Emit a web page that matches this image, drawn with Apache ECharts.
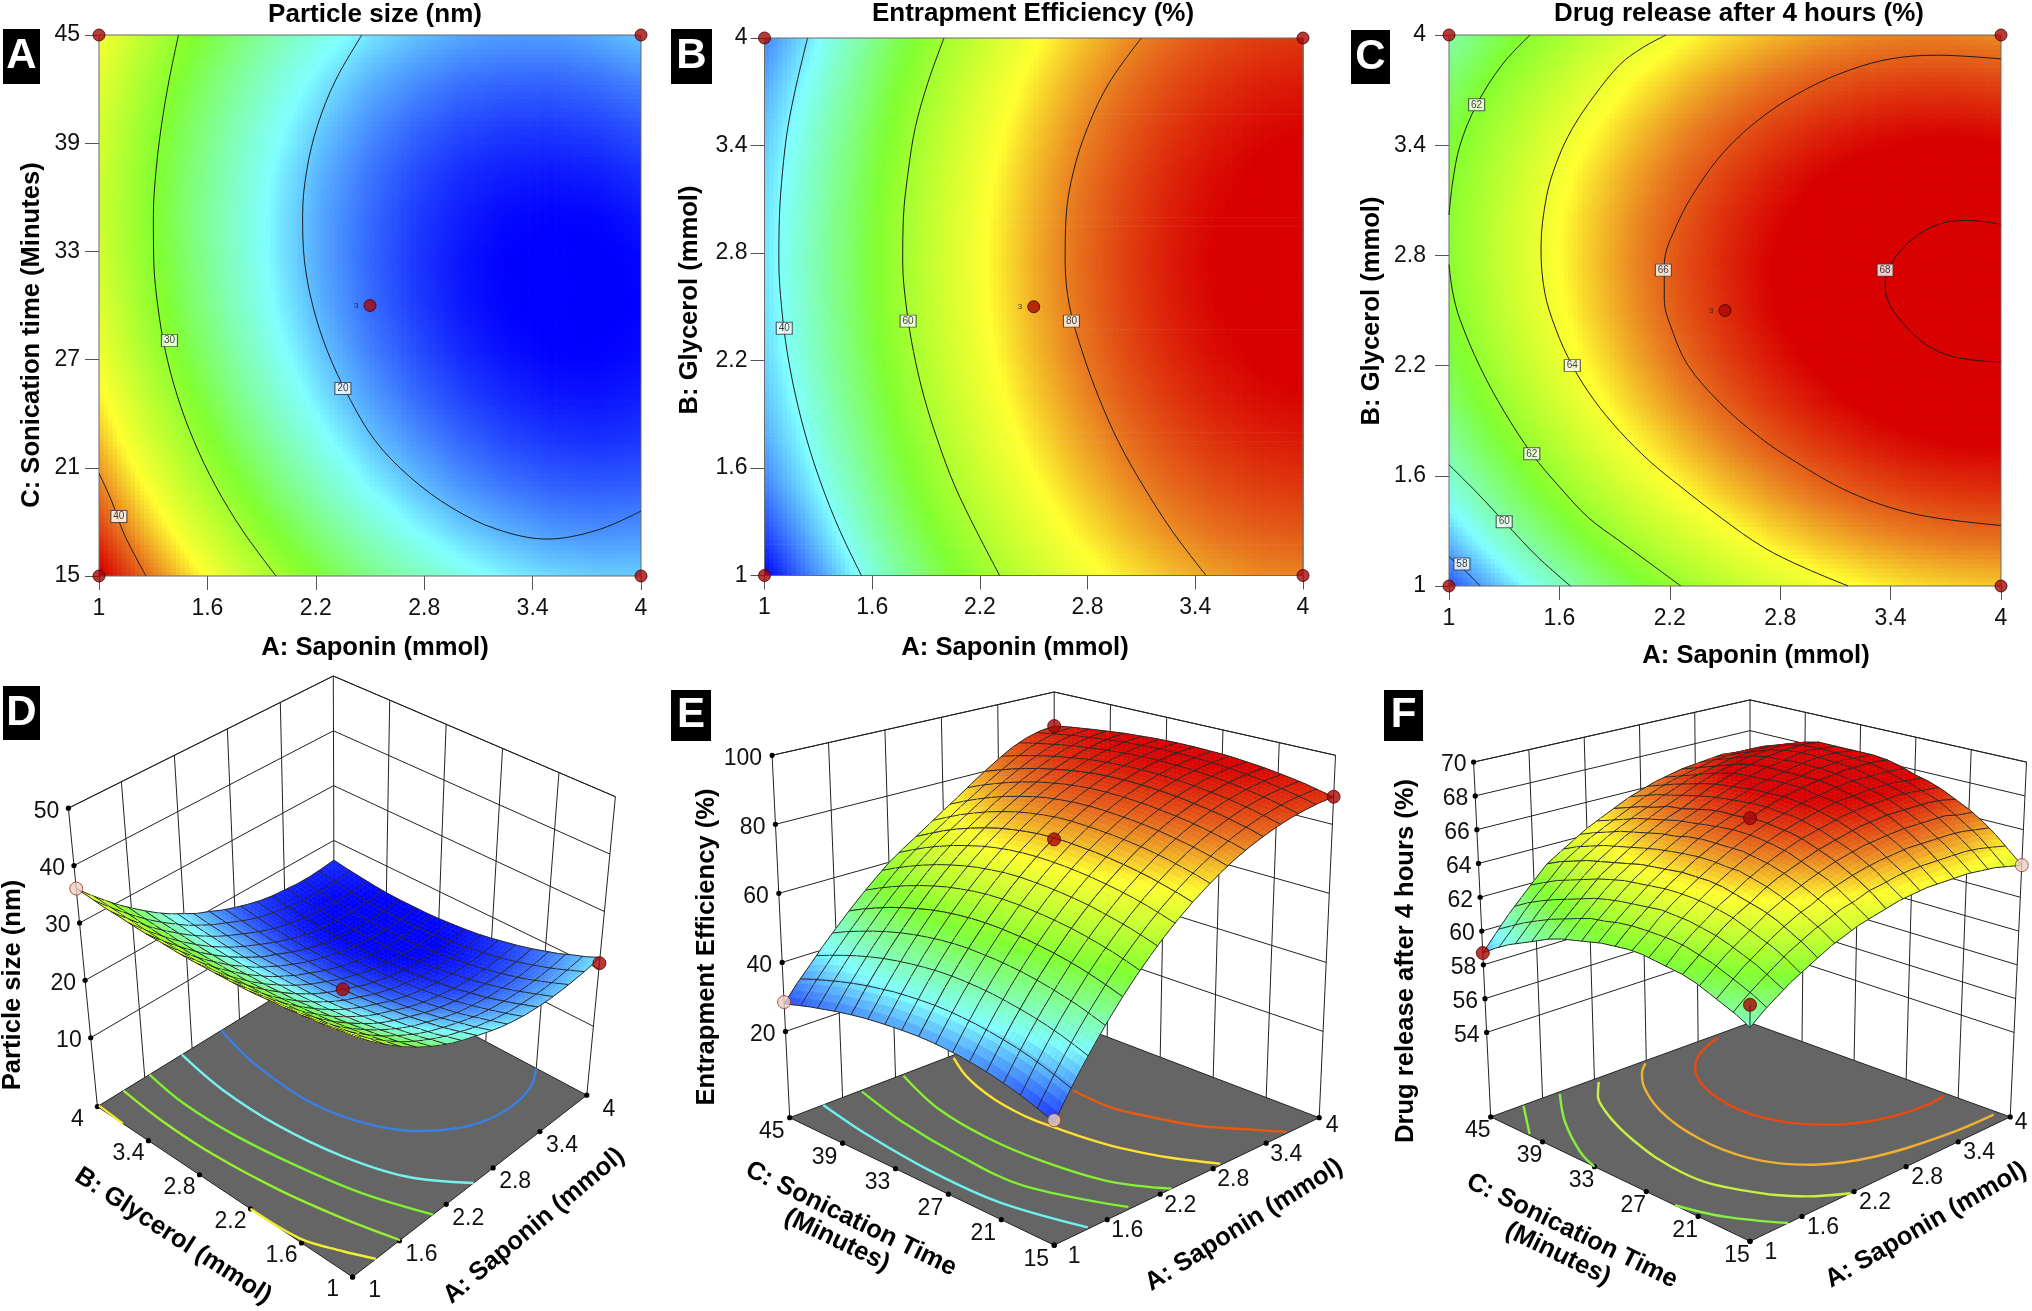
<!DOCTYPE html>
<html><head><meta charset="utf-8">
<script src="https://cdn.jsdelivr.net/npm/echarts@6/dist/echarts.min.js"></script>
<style>html,body{margin:0;padding:0;background:#fff}#c{width:2032px;height:1311px}</style></head>
<body><div id="c"></div>
<script>
// ---------- tick labels ----------
const saponinTicks=[1,1.6,2.2,2.8,3.4,4];
const glycerolTicks=[1,1.6,2.2,2.8,3.4,4];
const sonicationTicks=[15,21,27,33,39,45];
const sizeTicks=[10,20,30,40,50];
const entrapTicks=[20,40,60,80,100];
const releaseTicks=[54,56,58,60,62,64,66,68,70];
// ---------- read grids for the flat maps (13 x 13) ----------
const saponin13=[1,1.25,1.5,1.75,2,2.25,2.5,2.75,3,3.25,3.5,3.75,4];
const glycerol13=[1,1.25,1.5,1.75,2,2.25,2.5,2.75,3,3.25,3.5,3.75,4];
const sonication13=[15,17.5,20,22.5,25,27.5,30,32.5,35,37.5,40,42.5,45];
const mapSize=[
[46.5,42.1,38.2,34.6,31.4,28.6,26.2,24.3,22.7,21.5,20.7,20.3,20.3],
[43.7,39.4,35.5,32,28.8,26.1,23.8,21.9,20.4,19.3,18.5,18.2,18.3],
[41.2,37,33.1,29.7,26.6,24,21.7,19.9,18.4,17.4,16.7,16.5,16.6],
[39.1,34.9,31.2,27.8,24.8,22.2,20,18.3,16.9,15.9,15.3,15.1,15.3],
[37.4,33.3,29.6,26.2,23.3,20.8,18.7,17,15.7,14.8,14.2,14.1,14.4],
[36,31.9,28.3,25.1,22.2,19.8,17.7,16.1,14.8,14,13.5,13.5,13.8],
[35,31,27.4,24.2,21.5,19.1,17.1,15.5,14.3,13.6,13.2,13.2,13.6],
[34.3,30.4,26.9,23.8,21.1,18.8,16.9,15.3,14.2,13.5,13.2,13.3,13.7],
[34,30.2,26.7,23.7,21.1,18.8,17,15.5,14.5,13.8,13.6,13.7,14.2],
[34.1,30.3,26.9,24,21.4,19.2,17.4,16,15,14.5,14.3,14.5,15.1],
[34.5,30.8,27.5,24.6,22.1,20,18.2,16.9,16,15.5,15.4,15.7,16.3],
[35.3,31.7,28.4,25.6,23.1,21.1,19.4,18.2,17.3,16.9,16.8,17.2,17.9],
[36.4,32.9,29.7,26.9,24.5,22.6,21,19.8,19,18.6,18.6,19.1,19.9]];
const mapEntrap=[
[22,30.9,39.2,46.7,53.5,59.5,64.8,69.3,73,76,78.2,79.7,80.3],
[27,34.8,42.6,50.1,56.9,62.9,68.2,72.7,76.4,79.4,81.6,83.1,83.7],
[31,38.1,45.4,52.9,59.7,65.7,71,75.5,79.2,82.2,84.4,85.9,86.5],
[33.8,40.4,47.7,55.2,62,68,73.3,77.8,81.5,84.5,86.7,88.2,88.8],
[35.6,42.2,49.5,57,63.8,69.8,75.1,79.6,83.3,86.3,88.5,90,90.6],
[36.9,43.5,50.8,58.3,65.1,71.1,76.4,80.9,84.6,87.6,89.8,91.3,91.9],
[37.6,44.2,51.5,59,65.8,71.8,77.1,81.6,85.3,88.3,90.5,92,92.6],
[37.9,44.5,51.8,59.3,66.1,72.1,77.4,81.9,85.6,88.6,90.8,92.3,92.9],
[37.6,44.2,51.5,59,65.8,71.8,77.1,81.6,85.3,88.3,90.5,92,92.6],
[36.9,43.5,50.8,58.3,65.1,71.1,76.4,80.9,84.6,87.6,89.8,91.3,91.9],
[35.6,42.2,49.5,57,63.8,69.8,75.1,79.6,83.3,86.3,88.5,90,90.6],
[33.8,40.4,47.7,55.2,62,68,73.3,77.8,81.5,84.5,86.7,88.2,88.8],
[31.5,38.1,45.4,52.9,59.7,65.7,71,75.5,79.2,82.2,84.4,85.9,86.5]];
const mapRelease=[
[57.49,58.63,59.68,60.64,61.5,62.25,62.92,63.49,63.97,64.34,64.62,64.8,64.89],
[58.62,59.75,60.78,61.73,62.57,63.31,63.96,64.52,64.98,65.34,65.6,65.77,65.84],
[59.59,60.7,61.72,62.65,63.48,64.2,64.84,65.38,65.82,66.17,66.42,66.57,66.63],
[60.39,61.49,62.49,63.41,64.22,64.93,65.55,66.08,66.51,66.84,67.08,67.21,67.25],
[61.04,62.12,63.11,64.01,64.81,65.5,66.1,66.62,67.03,67.35,67.57,67.69,67.71],
[61.52,62.58,63.56,64.44,65.23,65.91,66.5,66.99,67.39,67.7,67.9,68,68.01],
[61.84,62.89,63.85,64.72,65.48,66.15,66.72,67.21,67.59,67.88,68.07,68.15,68.15],
[61.99,63.03,63.97,64.83,65.58,66.23,66.79,67.26,67.62,67.9,68.07,68.14,68.13],
[61.99,63.01,63.94,64.78,65.51,66.15,66.69,67.14,67.5,67.76,67.91,67.97,67.94],
[61.82,62.82,63.74,64.56,65.28,65.9,66.43,66.87,67.21,67.45,67.6,67.64,67.59],
[61.49,62.48,63.38,64.18,64.89,65.5,66.01,66.43,66.75,66.98,67.11,67.14,67.07],
[60.99,61.97,62.85,63.64,64.34,64.93,65.43,65.83,66.14,66.35,66.47,66.48,66.4],
[60.34,61.3,62.17,62.94,63.62,64.2,64.68,65.07,65.36,65.56,65.66,65.65,65.56]];
// ---------- contours of the flat maps, [x, y] pairs ----------
const contA40=[[1,20.7],[1.07,19.15],[1.14,17.3],[1.26,15]];
const contA30=[[1.44,45],[1.388,42.5],[1.346,40],[1.316,37.5],[1.301,35],[1.303,32.5],[1.325,30],[1.367,27.5],[1.433,25],[1.525,22.5],[1.645,20],[1.796,17.5],[1.98,15]];
const contA20=[[2.455,45],[2.31,42.5],[2.21,40],[2.15,37.5],[2.127,35],[2.137,32.5],[2.183,30],[2.263,27.5],[2.379,25],[2.529,22.5],[2.72,20.5],[2.95,18.8],[3.2,17.6],[3.48,17.05],[3.76,17.55],[4,18.6]];
const contB40=[[1.24,4],[1.18,3.75],[1.13,3.5],[1.1,3.25],[1.083,3],[1.08,2.75],[1.095,2.5],[1.126,2.25],[1.174,2],[1.238,1.75],[1.32,1.5],[1.42,1.25],[1.54,1]];
const contB60=[[2,4],[1.91,3.75],[1.84,3.5],[1.8,3.25],[1.774,3],[1.77,2.75],[1.79,2.5],[1.83,2.25],[1.888,2],[1.966,1.75],[2.06,1.5],[2.18,1.25],[2.31,1]];
const contB80=[[3.1,4],[2.92,3.75],[2.8,3.5],[2.72,3.25],[2.68,3],[2.675,2.75],[2.7,2.5],[2.77,2.25],[2.86,2],[2.97,1.75],[3.11,1.5],[3.27,1.25],[3.46,1]];
const contC58=[[1,1.16],[1.09,1.08],[1.17,1]];
const contC60=[[1,1.66],[1.15,1.51],[1.3,1.35],[1.48,1.16],[1.66,1]];
const contC62a=[[1.44,4],[1.29,3.84],[1.15,3.62],[1.06,3.4],[1.02,3.2],[1,3.02]];
const contC62b=[[1,2.75],[1.02,2.6],[1.06,2.45],[1.17,2.19],[1.3,1.95],[1.45,1.72],[1.6,1.54],[1.76,1.37],[1.92,1.25],[2.07,1.14],[2.26,1]];
const contC64=[[2.18,4],[2.05,3.93],[1.93,3.84],[1.79,3.67],[1.67,3.49],[1.59,3.32],[1.53,3.12],[1.5,2.84],[1.52,2.6],[1.58,2.4],[1.67,2.2],[1.79,2.01],[1.93,1.84],[2.09,1.68],[2.26,1.54],[2.48,1.37],[2.71,1.21],[2.93,1.1],[3.17,1]];
const contC66=[[4,3.87],[3.65,3.89],[3.4,3.87],[3.18,3.81],[2.95,3.71],[2.71,3.56],[2.5,3.37],[2.35,3.17],[2.24,2.97],[2.17,2.75],[2.17,2.56],[2.21,2.4],[2.3,2.2],[2.47,2],[2.65,1.84],[2.83,1.71],[3.18,1.51],[3.54,1.39],[4,1.33]];
const contC68=[[4,2.97],[3.82,2.99],[3.66,2.97],[3.52,2.89],[3.42,2.78],[3.37,2.65],[3.39,2.54],[3.46,2.44],[3.57,2.33],[3.7,2.26],[3.85,2.23],[4,2.22]];
const labelsA=[[1.11,18.3,'40'],[1.39,28.05,'30'],[2.35,25.4,'20']];
const labelsB=[[1.11,2.38,'40'],[1.8,2.42,'60'],[2.71,2.42,'80']];
const labelsC=[[1.15,3.62,'62'],[2.165,2.72,'66'],[3.37,2.72,'68'],[1.67,2.2,'64'],[1.45,1.72,'62'],[1.3,1.35,'60'],[1.07,1.12,'58']];
const cornersA=[[1,15],[4,15],[1,45],[4,45]], centreA=[[2.5,30]];
const cornersB=[[1,1],[4,1],[1,4],[4,4]], centreB=[[2.5,2.5]];
// ---------- read surfaces (21 x 21) ----------
const saponin21=[1,1.15,1.3,1.45,1.6,1.75,1.9,2.05,2.2,2.35,2.5,2.65,2.8,2.95,3.1,3.25,3.4,3.55,3.7,3.85,4];
const surfSize=[
[38,35.9,34,32.2,30.5,29,27.6,26.4,25.3,24.4,23.6,22.8,22.1,21.6,21.2,21,20.9,21,21.2,21.5,22],
[37.6,35.4,33.5,31.7,30,28.4,27,25.8,24.7,23.7,22.9,22,21.4,20.8,20.4,20.2,20.1,20.1,20.3,20.6,21],
[37.1,35,33,31.2,29.5,27.9,26.5,25.2,24,23,22.2,21.4,20.7,20.1,19.7,19.4,19.3,19.3,19.4,19.7,20.2],
[36.8,34.6,32.6,30.7,29,27.4,26,24.7,23.5,22.5,21.6,20.8,20,19.4,19,18.7,18.5,18.5,18.6,18.9,19.3],
[36.4,34.3,32.2,30.3,28.6,27,25.5,24.2,23,21.9,21.1,20.2,19.4,18.8,18.4,18,17.9,17.8,17.9,18.2,18.6],
[36.1,33.9,31.9,30,28.2,26.6,25.1,23.7,22.5,21.5,20.6,19.7,18.9,18.3,17.8,17.5,17.3,17.2,17.3,17.5,17.9],
[35.9,33.6,31.6,29.6,27.9,26.2,24.7,23.4,22.1,21.1,20.2,19.2,18.4,17.8,17.3,16.9,16.7,16.7,16.7,16.9,17.3],
[35.6,33.4,31.3,29.4,27.6,25.9,24.4,23,21.8,20.7,19.8,18.8,18,17.4,16.9,16.5,16.3,16.2,16.2,16.4,16.8],
[35.4,33.2,31.1,29.1,27.3,25.7,24.1,22.7,21.5,20.4,19.5,18.5,17.7,17,16.5,16.1,15.9,15.8,15.8,16,16.3],
[35.3,33,30.9,28.9,27.1,25.4,23.9,22.5,21.2,20.1,19.2,18.2,17.4,16.7,16.2,15.8,15.5,15.4,15.4,15.6,15.9],
[35.2,32.9,30.8,28.8,27,25.3,23.7,22.3,21,19.9,19,18,17.1,16.5,15.9,15.5,15.2,15.1,15.1,15.3,15.6],
[35.1,32.8,30.6,28.7,26.8,25.1,23.6,22.2,20.9,19.8,18.8,17.8,17,16.3,15.7,15.3,15,14.9,14.9,15.1,15.4],
[35,32.8,30.6,28.6,26.8,25.1,23.5,22,20.8,19.6,18.7,17.7,16.8,16.1,15.6,15.1,14.9,14.7,14.7,14.9,15.2],
[35,32.7,30.6,28.6,26.8,25,23.5,22,20.8,19.6,18.6,17.6,16.8,16.1,15.5,15.1,14.8,14.7,14.7,14.8,15.1],
[35.1,32.8,30.6,28.6,26.8,25,23.5,22,20.8,19.6,18.6,17.6,16.8,16.1,15.5,15.1,14.8,14.6,14.6,14.8,15.1],
[35.1,32.8,30.7,28.7,26.8,25.1,23.5,22.1,20.8,19.6,18.7,17.7,16.8,16.1,15.5,15.1,14.8,14.7,14.7,14.8,15.1],
[35.2,32.9,30.8,28.8,26.9,25.2,23.6,22.2,20.9,19.8,18.8,17.8,16.9,16.2,15.6,15.2,14.9,14.8,14.8,14.9,15.2],
[35.4,33.1,31,28.9,27.1,25.4,23.8,22.4,21.1,20,19,18,17.1,16.4,15.8,15.4,15.1,15,15,15.1,15.4],
[35.5,33.3,31.1,29.1,27.3,25.6,24,22.6,21.3,20.2,19.2,18.2,17.3,16.6,16.1,15.6,15.4,15.2,15.2,15.4,15.7],
[35.8,33.5,31.4,29.4,27.5,25.8,24.3,22.8,21.6,20.4,19.5,18.5,17.6,16.9,16.4,15.9,15.6,15.5,15.5,15.7,16],
[36,33.7,31.6,29.6,27.8,26.1,24.5,23.1,21.9,20.7,19.8,18.8,18,17.3,16.7,16.3,16.1,15.9,15.9,16.1,16.4]];
const surfEntrap=[
[26.4,32.1,37.5,42.6,47.5,52.1,56.4,60.4,64.2,67.7,70.9,73.8,76.5,78.9,81,82.8,84.4,85.7,86.7,87.5,87.9],
[27.9,33.5,38.9,44,48.8,53.4,57.7,61.7,65.4,68.9,72.1,75,77.6,80,82.1,83.9,85.4,86.7,87.7,88.4,88.8],
[29.2,34.8,40.2,45.3,50.1,54.6,58.9,62.8,66.6,70,73.1,76,78.6,81,83,84.8,86.4,87.6,88.6,89.2,89.7],
[30.4,36,41.3,46.4,51.1,55.7,59.9,63.8,67.5,71,74.1,77,79.5,81.9,83.9,85.7,87.2,88.4,89.3,90,90.4],
[31.4,37,42.3,47.3,52.1,56.6,60.8,64.7,68.4,71.8,74.9,77.8,80.3,82.6,84.7,86.4,87.9,89.1,90,90.7,91],
[32.3,37.8,43.1,48.1,52.9,57.4,61.6,65.5,69.2,72.5,75.6,78.5,81,83.3,85.3,87,88.5,89.7,90.6,91.2,91.6],
[33,38.5,43.8,48.8,53.6,58,62.2,66.1,69.8,73.1,76.2,79,81.6,83.8,85.8,87.6,89,90.2,91.1,91.7,92],
[33.6,39.1,44.4,49.4,54.1,58.6,62.7,66.6,70.3,73.6,76.7,79.5,82,84.3,86.3,88,89.4,90.6,91.4,92.1,92.4],
[34,39.5,44.8,49.8,54.5,58.9,63.1,67,70.6,74,77,79.8,82.3,84.6,86.6,88.3,89.7,90.9,91.7,92.3,92.7],
[34.3,39.8,45.1,50,54.7,59.2,63.4,67.2,70.9,74.2,77.3,80,82.6,84.8,86.8,88.5,89.9,91,91.9,92.5,92.8],
[34.4,39.9,45.2,50.2,54.9,59.3,63.5,67.4,71,74.3,77.4,80.2,82.7,84.9,86.9,88.6,90,91.2,92,92.6,92.9],
[34.3,39.8,45.1,50.1,54.8,59.2,63.4,67.3,70.9,74.2,77.3,80.1,82.6,84.8,86.8,88.5,89.9,91.1,92,92.6,92.9],
[34.1,39.6,44.8,49.8,54.5,58.9,63.1,66.9,70.5,73.9,76.9,79.7,82.2,84.5,86.5,88.3,89.7,90.9,91.8,92.5,92.8],
[33.8,39.3,44.4,49.3,54,58.4,62.5,66.4,70,73.3,76.3,79.1,81.7,84,86,87.8,89.4,90.6,91.6,92.3,92.6],
[33.4,38.7,43.8,48.7,53.3,57.7,61.8,65.6,69.2,72.5,75.5,78.3,80.9,83.2,85.3,87.2,88.9,90.2,91.3,92,92.3],
[32.8,38.1,43.1,47.9,52.4,56.7,60.8,64.6,68.2,71.4,74.4,77.2,79.8,82.2,84.5,86.4,88.2,89.7,90.8,91.6,92],
[32.1,37.3,42.1,46.9,51.3,55.6,59.6,63.4,67,70.2,73.1,75.9,78.6,81,83.4,85.5,87.4,89.1,90.3,91.1,91.5],
[31.2,36.3,41,45.7,50,54.3,58.2,62,65.5,68.7,71.6,74.3,77.1,79.6,82.1,84.4,86.5,88.3,89.7,90.6,91],
[30.3,35.2,39.7,44.3,48.5,52.7,56.6,60.3,63.9,67,69.8,72.6,75.3,78,80.6,83.1,85.4,87.4,89,90,90.4],
[29.2,34,38.3,42.7,46.9,51,54.8,58.5,62,65,67.7,70.5,73.4,76.1,79,81.6,84.2,86.5,88.2,89.3,89.8],
[28,32.6,36.7,41,45,49,52.8,56.4,59.9,62.8,65.5,68.3,71.2,74,77.1,80,82.8,85.4,87.3,88.5,89]];
const surfRelease=[
[60.3,60.9,61.4,61.9,62.3,62.7,63.1,63.4,63.7,63.9,64.1,64.3,64.4,64.5,64.5,64.5,64.5,64.4,64.3,64.1,63.9],
[60.7,61.3,61.8,62.3,62.8,63.2,63.6,63.9,64.2,64.4,64.7,64.8,65,65.1,65.1,65.1,65.1,65.1,65,64.8,64.6],
[61,61.6,62.2,62.7,63.2,63.6,64,64.3,64.7,64.9,65.2,65.4,65.5,65.6,65.7,65.7,65.7,65.7,65.6,65.5,65.3],
[61.3,61.9,62.5,63,63.5,64,64.4,64.7,65.1,65.4,65.6,65.8,66,66.1,66.2,66.2,66.2,66.2,66.2,66,65.9],
[61.6,62.2,62.8,63.3,63.8,64.3,64.7,65.1,65.4,65.7,66,66.2,66.4,66.5,66.6,66.7,66.7,66.7,66.7,66.5,66.4],
[61.8,62.4,63,63.6,64.1,64.5,65,65.4,65.7,66,66.3,66.5,66.7,66.9,67,67.1,67.1,67.1,67.1,67,66.8],
[61.9,62.6,63.2,63.7,64.3,64.7,65.2,65.6,66,66.3,66.6,66.8,67,67.2,67.3,67.4,67.4,67.5,67.4,67.3,67.2],
[62,62.7,63.3,63.9,64.4,64.9,65.4,65.8,66.1,66.5,66.8,67,67.2,67.4,67.6,67.6,67.7,67.7,67.7,67.6,67.5],
[62.1,62.7,63.4,63.9,64.5,65,65.4,65.9,66.3,66.6,66.9,67.2,67.4,67.6,67.7,67.8,67.9,67.9,67.9,67.8,67.7],
[62.1,62.7,63.4,64,64.5,65,65.5,65.9,66.3,66.7,67,67.2,67.5,67.7,67.8,68,68.1,68.1,68.1,68.1,68],
[62,62.7,63.3,63.9,64.5,65,65.5,65.9,66.3,66.7,67,67.3,67.6,67.8,68,68.1,68.2,68.3,68.3,68.3,68.2],
[61.9,62.6,63.2,63.8,64.4,64.9,65.4,65.9,66.3,66.6,66.9,67.3,67.5,67.8,68,68.1,68.3,68.3,68.4,68.3,68.3],
[61.7,62.4,63.1,63.7,64.3,64.8,65.3,65.8,66.2,66.5,66.9,67.2,67.5,67.8,68,68.1,68.3,68.4,68.4,68.4,68.3],
[61.5,62.3,62.9,63.6,64.2,64.7,65.2,65.6,66,66.4,66.8,67.1,67.4,67.7,67.9,68.1,68.3,68.4,68.5,68.4,68.3],
[61.3,62,62.7,63.4,64,64.5,65,65.5,65.9,66.3,66.6,67,67.3,67.6,67.9,68.1,68.2,68.4,68.5,68.4,68.3],
[61,61.7,62.4,63.1,63.8,64.3,64.8,65.3,65.7,66.1,66.4,66.8,67.2,67.5,67.8,68,68.2,68.3,68.4,68.4,68.3],
[60.6,61.4,62.1,62.8,63.5,64.1,64.6,65.1,65.5,65.9,66.3,66.6,67,67.3,67.6,67.8,68,68.1,68.2,68.2,68.1],
[60.2,61,61.8,62.5,63.2,63.9,64.4,64.9,65.3,65.7,66,66.4,66.7,67.1,67.3,67.5,67.7,67.8,67.9,67.9,67.8],
[59.8,60.6,61.4,62.2,62.9,63.6,64.1,64.6,65,65.4,65.8,66.2,66.5,66.8,67,67.2,67.4,67.5,67.6,67.5,67.5],
[59.3,60.1,61,61.8,62.5,63.3,63.8,64.3,64.7,65.1,65.5,65.9,66.2,66.5,66.7,66.9,67.1,67.2,67.2,67.2,67.2],
[58.7,59.6,60.5,61.3,62.1,62.9,63.4,63.9,64.4,64.8,65.2,65.6,65.9,66.2,66.4,66.6,66.7,66.8,66.9,66.8,66.8]];
// ---------- floor contours of the surfaces: [saponin, other factor] ----------
const floorD=[
[[2.57,4],[2.436,3.51],[2.38,2.9],[2.418,2.52],[2.53,2.16],[2.71,1.85],[2.94,1.62],[3.21,1.47],[3.5,1.42],[3.79,1.47],[4,1.6]],
[[2.07,4],[1.97,3.42],[1.96,2.76],[2.05,2.09],[2.23,1.5],[2.55,1]],
[[1.66,4],[1.59,3.53],[1.6,2.93],[1.69,2.26],[1.82,1.63],[2.03,1]],
[[1.33,4],[1.28,3.49],[1.28,2.89],[1.35,2.2],[1.47,1.56],[1.61,1]],
[[1,2.2],[1.03,1.65],[1.17,1.28],[1.3,1]],
[[1.02,4],[1,3.7]]];
const floorE=[
[[1.38,45],[1.26,38.7],[1.18,30.4],[1.2,23.2],[1.4,15.2]],
[[1.8,44.8],[1.64,38.5],[1.55,31.7],[1.54,24],[1.87,15.3]],
[[2.27,44.8],[2.03,38.4],[1.94,32],[1.96,25.7],[2.08,19.5],[2.33,15]],
[[2.82,44.6],[2.66,41.8],[2.56,39.3],[2.49,36.7],[2.45,34],[2.44,31.8],[2.46,29.6],[2.49,26.8],[2.54,24],[2.61,21.6],[2.7,19.2],[2.9,15.2]],
[[3.06,33.5],[3.04,29.1],[3.14,25.1],[3.27,21.4],[3.46,18.3],[3.65,15.2]]];
const floorF=[
[[3.57,44.4],[3.46,44.1],[3.2,42.9],[2.965,41],[2.79,38.5],[2.68,35.6],[2.64,32.5],[2.68,29.8],[2.79,27.25],[2.965,25.1],[3.2,23.4],[3.46,22.4],[3.75,22],[3.95,22.2]],
[[2.75,44.6],[2.58,43.3],[2.44,41.8],[2.28,39.4],[2.16,37],[2.06,34],[2.01,31],[2,28.3],[2.04,25.7],[2.14,23.2],[2.31,21],[2.52,19.4],[2.75,18.3],[3.05,17.4],[3.37,16.8],[3.65,16.5],[3.95,16.4]],
[[2.19,44.4],[1.98,42.4],[1.82,40],[1.68,37],[1.58,34.1],[1.5,31],[1.46,27.4],[1.48,24.6],[1.59,21.7],[1.72,19.2],[1.88,17.2],[2.16,15]],
[[1.77,44.7],[1.41,40.5],[1.1,35.6],[1,33]],
[[1,23.7],[1.15,19.5],[1.44,15]],
[[1.37,44.9],[1.02,40.7]]];
const pointsD=[[1,4,36,'low'],[4,1,21,'high'],[2.5,2.5,19,'high']];
const pointsE=[[1,45,28.5,'low'],[1,15,27,'low'],[4,45,89,'high'],[4,15,88,'high'],[2.5,30,77,'high']];
const pointsF=[[1,45,58.7,'high'],[1,15,61.5,'high'],[2.5,30,67,'high'],[4,15,63.9,'low']];
const dropF=[[1,15,60.3],[1,15,61.5]];

// ---------- colour ramp ----------
const STOPS=[[0,0,0,255],[.25,128,255,255],[.47,128,255,48],[.70,255,255,48],[.83,232,122,32],[.97,216,0,0],[1,216,0,0]];
function ramp(t){t=Math.max(0,Math.min(1,t));let k=1;while(k<STOPS.length-1&&STOPS[k][0]<t)k++;
 const a=STOPS[k-1],b=STOPS[k],f=(t-a[0])/(b[0]-a[0]);
 return 'rgb('+[1,2,3].map(i=>Math.round(a[i]+(b[i]-a[i])*f)).join(',')+')';}
const FF='"Liberation Sans",Arial,sans-serif';
const PAGE={xAxisIndex:3,yAxisIndex:3};

// ---------- flat maps ----------
const series=[];
function flat(idx,xs,ys,vals,range,conts,labels,corners,centre){
 const data=[];for(let j=0;j<ys.length-1;j++)for(let i=0;i<xs.length-1;i++)data.push([i,j]);
 const N=10;
 series.push({type:'custom',xAxisIndex:idx,yAxisIndex:idx,z:1,silent:true,animation:false,progressive:0,clip:true,
  data:data,encode:{x:0,y:1},
  renderItem:(p,api)=>{const i=api.value(0),j=api.value(1),kids=[];
   const x0=xs[i],x1=xs[i+1],y0=ys[j],y1=ys[j+1];
   for(let a=0;a<N;a++)for(let b=0;b<N;b++){
    const f=(a+.5)/N,g=(b+.5)/N;
    const v=vals[j][i]*(1-f)*(1-g)+vals[j][i+1]*f*(1-g)+vals[j+1][i]*(1-f)*g+vals[j+1][i+1]*f*g;
    const p0=api.coord([x0+(x1-x0)*a/N,y0+(y1-y0)*(b+1)/N]),p1=api.coord([x0+(x1-x0)*(a+1)/N,y0+(y1-y0)*b/N]);
    kids.push({type:'rect',shape:{x:p0[0],y:p0[1],width:p1[0]-p0[0]+.7,height:p1[1]-p0[1]+.7},
     style:{fill:ramp((v-range[0])/(range[1]-range[0]))},silent:true});
   }
   return {type:'group',children:kids};}});
 const xr=[xs[0],xs[xs.length-1]],yr=[ys[0],ys[ys.length-1]];
 series.push({type:'custom',xAxisIndex:idx,yAxisIndex:idx,z:2,silent:true,animation:false,clip:false,data:[[xr[0],yr[0]]],encode:{x:0,y:1},
  renderItem:(p,api)=>{const a=api.coord([xr[0],yr[1]]),b=api.coord([xr[1],yr[0]]);
   return {type:'rect',shape:{x:a[0],y:a[1],width:b[0]-a[0],height:b[1]-a[1]},style:{fill:'none',stroke:'#6a6a6a',lineWidth:1}};}});
 conts.forEach(c=>series.push({type:'line',xAxisIndex:idx,yAxisIndex:idx,z:3,data:c,smooth:.35,showSymbol:false,silent:true,animation:false,
  lineStyle:{color:'#1c1c1c',width:1}}));
 series.push({type:'scatter',xAxisIndex:idx,yAxisIndex:idx,z:4,data:labels,symbol:'rect',symbolSize:[16,12],silent:true,animation:false,clip:false,
  itemStyle:{color:'#fff',borderColor:'#333',borderWidth:1},
  label:{show:true,position:'inside',formatter:p=>p.data[2],fontSize:10,color:'#111',fontFamily:FF}});
 series.push({type:'scatter',xAxisIndex:idx,yAxisIndex:idx,z:5,data:corners,symbolSize:12,silent:true,animation:false,clip:false,
  itemStyle:{color:'#a80808',borderColor:'#3c0000',borderWidth:1}});
 series.push({type:'scatter',xAxisIndex:idx,yAxisIndex:idx,z:5,data:centre,symbolSize:12,silent:true,animation:false,clip:false,
  itemStyle:{color:'#a80808',borderColor:'#3c0000',borderWidth:1},
  label:{show:true,position:'left',distance:5,formatter:'3',fontSize:8,color:'#111',fontFamily:FF}});
}
flat(0,saponin13,sonication13,mapSize,[13.5,47],[contA40,contA30,contA20],labelsA,cornersA,centreA);
flat(1,saponin13,glycerol13,mapEntrap,[22,93],[contB40,contB60,contB80],labelsB,cornersB,centreB);
flat(2,saponin13,glycerol13,mapRelease,[56.6,67.6],[contC58,contC60,contC62a,contC62b,contC64,contC66,contC68],labelsC,cornersB,centreB);

// ---------- surfaces ----------
function makeP(b,amin,amax,vmin,vmax){
 return (A,V,Z)=>{const u=(A-amin)/(amax-amin),v=(V-vmin)/(vmax-vmin),w=(Z-b.zr[0])/(b.zr[1]-b.zr[0]);
  const mix=(q,k)=>(1-u)*(1-v)*q.front[k]+u*(1-v)*q.right[k]+(1-u)*v*q.left[k]+u*v*q.back[k];
  return [0,1].map(k=>(1-w)*mix(b.floor,k)+w*mix(b.top,k));};
}
const MESH=16;
function surface(cfg){
 const vs=cfg.vAxis, amin=1,amax=4,vmin=vs[0],vmax=vs[vs.length-1],P=makeP(cfg.box,amin,amax,vmin,vmax);
 const zb=cfg.box.zr[0],zt=cfg.box.zr[1];
 series.push({type:'custom',...PAGE,z:1,silent:true,animation:false,clip:false,data:[[0,0]],encode:{x:0,y:1},
  renderItem:(p,api)=>{const C=q=>api.coord(P(q[0],q[1],q[2]));const kids=[];
   const seg=(a,b,c,w)=>{const x=C(a),y=C(b);kids.push({type:'line',shape:{x1:x[0],y1:x[1],x2:y[0],y2:y[1]},style:{stroke:c||'#222',lineWidth:w||1}});};
   saponinTicks.slice(1,-1).forEach(a=>seg([a,vmax,zb],[a,vmax,zt]));
   cfg.vTicks.slice(1,-1).forEach(v=>seg([amax,v,zb],[amax,v,zt]));
   cfg.zTicks.forEach(z=>{seg([amin,vmax,z],[amax,vmax,z]);seg([amax,vmax,z],[amax,vmin,z]);});
   seg([amin,vmax,zb],[amin,vmax,zt]);seg([amax,vmax,zb],[amax,vmax,zt]);seg([amax,vmin,zb],[amax,vmin,zt]);
   seg([amin,vmax,zt],[amax,vmax,zt]);seg([amax,vmax,zt],[amax,vmin,zt]);
   kids.push({type:'polygon',shape:{points:[[amin,vmin],[amax,vmin],[amax,vmax],[amin,vmax]].map(q=>C([q[0],q[1],zb]))},style:{fill:'#656565',stroke:'#222',lineWidth:1}});
   const dot=(q)=>{const x=C(q);kids.push({type:'circle',shape:{cx:x[0],cy:x[1],r:2.6},style:{fill:'#000'}});return x;};
   const txt=(x,y,t,al)=>kids.push({type:'text',x:x,y:y,style:{text:String(t),font:'23px '+FF,fill:'#111',textAlign:al,textVerticalAlign:'middle',align:al,verticalAlign:'middle'}});
   cfg.zTicks.forEach(z=>{const x=dot([amin,vmax,z]);txt(x[0]-cfg.zGap,x[1]+3,z,'right');});
   cfg.vTicks.forEach(v=>{const x=dot([amin,v,zb]);txt(x[0]+cfg.vOff[0],x[1]+cfg.vOff[1],v,'center');});
   saponinTicks.forEach((a,k)=>{const x=dot([a,vmin,zb]);const o=(k===5&&cfg.aLast)?cfg.aLast:cfg.aOff;txt(x[0]+o[0],x[1]+o[1],a,'center');});
   return {type:'group',children:kids};}});
 cfg.floor.forEach((c,i)=>series.push({type:'line',...PAGE,z:2,silent:true,animation:false,clip:false,showSymbol:false,smooth:.35,
  data:c.map(q=>P(q[0],q[1],zb)),lineStyle:{color:cfg.floorColors[i],width:2.4}}));
 const vals=cfg.vals,R=cfg.range,cells=[];
 for(let s=2*20-2;s>=0;s--)for(let j=0;j<20;j++){const i=s-j;if(i>=0&&i<20)cells.push([i,j]);}
 const M=3,step=20/MESH;
 series.push({type:'custom',...PAGE,z:3,silent:true,animation:false,clip:false,progressive:0,data:cells,encode:{x:0,y:1},
  renderItem:(p,api)=>{const i=api.value(0),j=api.value(1),kids=[];
   const a0=saponin21[i],a1=saponin21[i+1],b0=vs[j],b1=vs[j+1];
   const z=(f,g)=>vals[j][i]*(1-f)*(1-g)+vals[j][i+1]*f*(1-g)+vals[j+1][i]*(1-f)*g+vals[j+1][i+1]*f*g;
   const Q=(f,g)=>api.coord(P(a0+(a1-a0)*f,b0+(b1-b0)*g,z(f,g)));
   for(let a=M-1;a>=0;a--)for(let b=M-1;b>=0;b--){
    const c=ramp((z((a+.5)/M,(b+.5)/M)-R[0])/(R[1]-R[0]));
    kids.push({type:'polygon',shape:{points:[Q(a/M,b/M),Q((a+1)/M,b/M),Q((a+1)/M,(b+1)/M),Q(a/M,(b+1)/M)]},style:{fill:c,stroke:c,lineWidth:.5}});
   }
   const line=(x,y)=>kids.push({type:'line',shape:{x1:x[0],y1:x[1],x2:y[0],y2:y[1]},style:{stroke:'#2a2a2a',lineWidth:1}});
   for(let k=0;k<=MESH;k++){const t=k*step;
    if(t>=i&&t<=i+1)line(Q(t-i,0),Q(t-i,1));
    if(t>=j&&t<=j+1)line(Q(0,t-j),Q(1,t-j));
   }
   return {type:'group',children:kids};}});
 if(cfg.drop)series.push({type:'line',...PAGE,z:4,silent:true,animation:false,clip:false,showSymbol:false,
  data:cfg.drop.map(q=>P(q[0],q[1],q[2])),lineStyle:{color:'#222',width:1}});
 series.push({type:'scatter',...PAGE,z:5,silent:true,animation:false,clip:false,symbolSize:13,
  data:cfg.points.map(q=>{const x=P(q[0],q[1],q[2]);return {value:x,itemStyle:q[3]==='low'?{color:'#e6d2c4',borderColor:'#b03018',borderWidth:1}:{color:'#a80808',borderColor:'#5a0000',borderWidth:1}};})});
}
const boxD={zr:[-2,50],floor:{front:[352.6,1277],right:[586.8,1095.2],left:[97.4,1106.6],back:[334.2,961]},
 top:{front:[353.8,964],right:[615.4,796.7],left:[68.4,808.2],back:[333.3,676]}};
const boxE={zr:[-5,100],floor:{front:[1054.2,1245.2],right:[1319.2,1117.7],left:[789.7,1117.7],back:[1054.2,1016.7]},
 top:{front:[1054.2,835],right:[1335.5,755.3],left:[772.1,755.3],back:[1054.2,692]}};
const boxF={zr:[49,70],floor:{front:[1750,1241.3],right:[2010.2,1116.9],left:[1490.7,1116.9],back:[1750,1022.7]},
 top:{front:[1750,844],right:[2026.5,762.1],left:[1473.6,762.1],back:[1750,699.9]}};
const sonication21=[15,16.5,18,19.5,21,22.5,24,25.5,27,28.5,30,31.5,33,34.5,36,37.5,39,40.5,42,43.5,45];
surface({box:boxD,vAxis:saponin21,vTicks:glycerolTicks,zTicks:sizeTicks,vals:surfSize,range:[15,46],floor:floorD,
 floorColors:['#3a80e0','#78f0f0','#80f030','#98f030','#f0f030','#f0f030'],points:pointsD,zGap:9,vOff:[-20,13],aOff:[22,14]});
surface({box:boxE,vAxis:sonication21,vTicks:sonicationTicks,zTicks:entrapTicks,vals:surfEntrap,range:[23,94],floor:floorE,
 floorColors:['#70f0f0','#80f030','#88f030','#ffe030','#e85a10'],points:pointsE,zGap:10,vOff:[-18,14],aOff:[20,11],aLast:[13,8]});
surface({box:boxF,vAxis:sonication21,vTicks:sonicationTicks,zTicks:releaseTicks,vals:surfRelease,range:[56.8,68],floor:floorF,
 floorColors:['#e84a10','#f0b030','#c8f040','#88f040','#88f040','#88f040'],points:pointsF,drop:dropF,zGap:7,vOff:[-13,14],aOff:[21,11],aLast:[11,6]});

// ---------- titles and letters ----------
const txt=(t,x,y,size,rot,bold)=>({type:'text',x:x,y:y,rotation:(rot||0)*Math.PI/180,z:50,silent:true,
 style:{text:t,font:(bold===false?'':'bold ')+size+'px '+FF,fill:'#000',textAlign:'center',textVerticalAlign:'middle',align:'center',verticalAlign:'middle'}});
const letter=(t,x,y,w,h)=>[{type:'rect',shape:{x:x,y:y,width:w,height:h},style:{fill:'#000'},z:50,silent:true},
 {type:'text',x:x+w/2,y:y+h/2,z:51,silent:true,style:{text:t,font:'bold 42px '+FF,fill:'#fff',textAlign:'center',textVerticalAlign:'middle',align:'center',verticalAlign:'middle'}}];
const graphic=[
 txt('Particle size (nm)',375,15,26),txt('A: Saponin (mmol)',375,648,25.6),txt('C: Sonication time (Minutes)',32,335,25.6,90),
 txt('Entrapment Efficiency (%)',1033,14,26),txt('A: Saponin (mmol)',1015,648,25.6),txt('B: Glycerol (mmol)',690,300,25.6,90),
 txt('Drug release after 4 hours (%)',1739,14,26),txt('A: Saponin (mmol)',1756,656,25.6),txt('B: Glycerol (mmol)',1372,311,25.6,90),
 txt('Particle size (nm)',13,985,25.6,90),txt('B: Glycerol (mmol)',173,1236,25.6,-33),txt('A: Saponin (mmol)',534,1226,25.6,40),
 txt('Entrapment Efficiency (%)',707,947,25.6,90),txt('C: Sonication Time',851,1219,25.6,-26),txt('(Minutes)',837,1240.5,25.6,-26),txt('A: Saponin (mmol)',1244,1225,25.6,32),
 txt('Drug release after 4 hours (%)',1406,961,25.6,90),txt('C: Sonication Time',1572,1231,25.6,-26),txt('(Minutes)',1558,1254,25.6,-26),txt('A: Saponin (mmol)',1926,1225,25.6,30),
 ...letter('A',3,29,37,55),...letter('B',671,29,41,55),...letter('C',1351,30,39,54),
 ...letter('D',3,686,37,54),...letter('E',671,690,40,51),...letter('F',1384,690,39,51)
];

// ---------- axes ----------
const L={fontSize:23,color:'#111',fontFamily:FF};
function xa(grid,ticks,margin){return {type:'value',gridIndex:grid,min:ticks[0],max:ticks[ticks.length-1],splitLine:{show:false},
 axisLine:{show:false},axisTick:{show:true,length:14,customValues:ticks,lineStyle:{color:'#555',width:1}},
 axisLabel:{...L,margin:margin,customValues:ticks,hideOverlap:false,showMinLabel:true,showMaxLabel:true}};}
const chart=echarts.init(document.getElementById('c'),null,{renderer:'canvas'});
chart.setOption({
 animation:false,backgroundColor:'#fff',graphic:graphic,
 grid:[{left:99,top:35,width:542,height:541},{left:764.5,top:38,width:538.5,height:537.5},{left:1449,top:35,width:552,height:551},{left:0,top:0,width:2032,height:1311}],
 xAxis:[xa(0,saponinTicks,21),xa(1,saponinTicks,21),xa(2,saponinTicks,21),{type:'value',gridIndex:3,min:0,max:2032,show:false}],
 yAxis:[xa(0,sonicationTicks,19),xa(1,glycerolTicks,17),xa(2,glycerolTicks,23),{type:'value',gridIndex:3,min:0,max:1311,inverse:true,show:false}],
 series:series
});
</script></body></html>
